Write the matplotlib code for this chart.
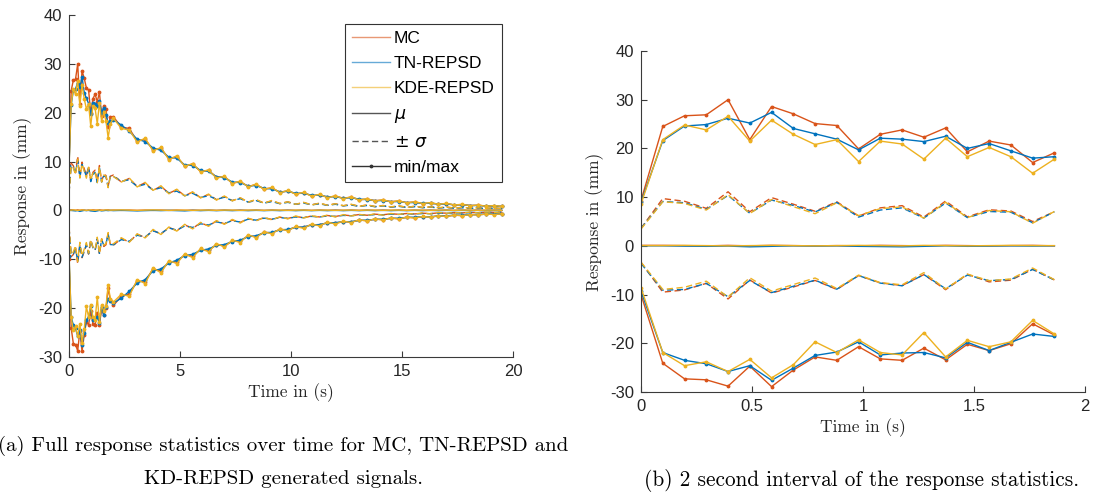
import numpy as np
import matplotlib
matplotlib.use("Agg")
import matplotlib.pyplot as plt
from matplotlib.lines import Line2D

# ---------------- data ----------------
dt = 0.098
n_zoom = 20
t_zoom = np.arange(n_zoom) * dt            # sample times of the 2 s window
t_tail = np.linspace(2.0, 19.5, 50)        # coarser read-off grid for the rest

# first 2 s
mc_max = [9.3, 24.5, 26.7, 26.9, 30.0, 21.8, 28.6, 27.1, 25.1, 24.7, 19.9, 22.9, 23.8, 22.3, 24.2, 19.3, 21.5, 20.7, 17.1, 19.1]
tn_max = [9.0, 21.6, 24.6, 24.9, 26.2, 25.2, 27.4, 24.1, 23.0, 21.9, 19.7, 22.1, 21.9, 21.4, 22.5, 20.0, 21.0, 19.5, 18.0, 18.3]
kde_max = [8.6, 21.8, 24.8, 23.8, 26.6, 21.5, 25.8, 22.9, 20.8, 21.8, 17.3, 21.5, 20.9, 17.8, 22.1, 18.3, 20.2, 18.3, 14.9, 17.8]

mc_min = [-10.0, -24.1, -27.3, -27.5, -28.8, -24.7, -28.9, -25.5, -22.8, -23.5, -20.7, -23.2, -23.5, -21.0, -23.4, -20.2, -21.5, -20.1, -16.0, -18.3]
tn_min = [-9.3, -21.9, -23.5, -24.2, -25.8, -24.6, -27.6, -25.1, -22.5, -21.8, -19.7, -22.4, -22.0, -21.9, -23.0, -19.8, -21.5, -19.8, -18.1, -18.6]
kde_min = [-8.6, -21.9, -24.6, -23.8, -25.8, -23.3, -27.1, -24.4, -19.7, -21.9, -19.3, -21.9, -22.4, -17.8, -22.8, -19.4, -20.7, -19.7, -15.3, -18.1]

mc_mu = [0.1, 0.1, 0.05, 0.0, 0.1, 0.0, 0.1, 0.05, 0.0, 0.05, 0.0, 0.1, 0.05, 0.0, 0.1, 0.05, 0.0, 0.05, 0.1, 0.0]
tn_mu = [0.0, 0.0, -0.05, -0.1, -0.05, -0.2, -0.1, 0.0, -0.05, 0.0, -0.1, -0.15, -0.2, -0.1, 0.0, -0.1, -0.05, 0.0, -0.05, 0.0]
kde_mu = [0.05, 0.05, 0.1, 0.05, 0.0, 0.05, 0.1, 0.05, 0.0, 0.05, 0.1, 0.05, 0.0, 0.1, 0.05, 0.0, 0.05, 0.1, 0.05, 0.05]

mc_sig = [3.5, 9.6, 9.1, 7.7, 11.0, 7.0, 9.8, 8.5, 7.1, 9.0, 6.1, 7.7, 8.2, 5.9, 9.1, 5.9, 7.4, 7.1, 4.9, 7.0]
tn_sig = [3.6, 9.1, 8.9, 7.6, 10.4, 6.9, 9.5, 8.3, 7.0, 8.9, 6.0, 7.5, 8.0, 5.8, 8.8, 5.9, 7.1, 6.9, 4.8, 7.0]
kde_sig = [3.4, 9.0, 8.6, 7.3, 10.5, 6.6, 9.4, 8.0, 6.6, 8.8, 6.1, 7.6, 8.0, 5.6, 8.9, 5.8, 7.2, 6.9, 4.6, 7.0]

# remainder of the record
mc_max_tail = [19.2, 17.1, 16.8, 14.2, 14.6, 12.4, 12.7, 10.6, 11.0, 9.1, 9.5, 8.0, 8.2, 6.8, 6.9, 5.6, 5.9, 4.9, 5.3, 4.4, 4.6, 3.7, 4.0, 3.4, 3.6, 3.0, 3.2, 2.7, 2.9, 2.5, 2.7, 2.2, 2.3, 2.0, 2.1, 1.8, 1.9, 1.6, 1.7, 1.4, 1.5, 1.3, 1.4, 1.1, 1.2, 1.0, 1.05, 0.9, 0.95, 0.8]
tn_max_tail = [18.6, 17.5, 16.2, 14.6, 14.1, 12.8, 12.3, 10.9, 10.7, 9.3, 9.2, 8.2, 8.0, 6.9, 6.7, 5.8, 5.7, 5.0, 5.1, 4.5, 4.4, 3.8, 3.9, 3.5, 3.5, 3.1, 3.1, 2.8, 2.8, 2.5, 2.6, 2.3, 2.2, 2.0, 2.0, 1.8, 1.8, 1.6, 1.6, 1.45, 1.45, 1.3, 1.3, 1.15, 1.15, 1.0, 1.0, 0.9, 0.9, 0.8]
kde_max_tail = [18.9, 16.8, 16.5, 14.0, 14.8, 12.2, 12.9, 10.4, 11.2, 9.0, 9.6, 7.9, 8.3, 6.6, 7.0, 5.5, 6.0, 4.8, 5.4, 4.3, 4.7, 3.6, 4.1, 3.3, 3.7, 2.9, 3.3, 2.6, 3.0, 2.4, 2.8, 2.1, 2.4, 1.9, 2.2, 1.7, 2.0, 1.5, 1.8, 1.4, 1.6, 1.25, 1.45, 1.1, 1.25, 0.95, 1.1, 0.85, 1.0, 0.8]

mc_min_tail = [-19.5, -17.6, -17.2, -14.5, -14.6, -12.0, -12.4, -10.6, -10.5, -9.1, -9.4, -8.0, -8.2, -7.0, -7.3, -6.3, -6.3, -5.2, -5.4, -4.5, -4.6, -3.9, -4.0, -3.4, -3.5, -2.9, -3.0, -2.5, -2.6, -2.3, -2.4, -2.0, -2.1, -1.8, -1.9, -1.6, -1.7, -1.4, -1.5, -1.3, -1.35, -1.15, -1.2, -1.0, -1.05, -0.85, -0.9, -0.75, -0.8, -0.7]
tn_min_tail = [-19.0, -18.0, -16.6, -14.9, -14.2, -12.4, -12.0, -10.8, -10.2, -9.3, -9.0, -8.2, -7.9, -7.2, -7.0, -6.4, -6.1, -5.4, -5.2, -4.6, -4.5, -4.0, -3.9, -3.5, -3.4, -3.0, -2.9, -2.6, -2.5, -2.35, -2.3, -2.05, -2.0, -1.85, -1.8, -1.65, -1.6, -1.45, -1.4, -1.3, -1.3, -1.15, -1.1, -1.0, -1.0, -0.88, -0.85, -0.78, -0.75, -0.7]
kde_min_tail = [-18.8, -17.2, -17.6, -14.2, -15.0, -11.8, -12.8, -10.3, -10.9, -8.9, -9.7, -7.8, -8.5, -6.8, -7.5, -6.1, -6.6, -5.0, -5.6, -4.4, -4.8, -3.8, -4.2, -3.3, -3.7, -2.8, -3.2, -2.4, -2.8, -2.2, -2.5, -1.9, -2.2, -1.7, -2.0, -1.5, -1.8, -1.35, -1.6, -1.25, -1.4, -1.1, -1.25, -0.95, -1.1, -0.85, -0.95, -0.75, -0.85, -0.7]

mc_sig_tail = [7.2, 5.8, 6.5, 4.9, 5.6, 4.1, 4.9, 3.5, 4.2, 3.0, 3.7, 2.6, 3.2, 2.2, 2.8, 2.0, 2.5, 1.7, 2.1, 1.5, 1.9, 1.4, 1.7, 1.25, 1.55, 1.15, 1.4, 1.05, 1.3, 0.95, 1.15, 0.85, 1.05, 0.78, 0.95, 0.7, 0.85, 0.64, 0.78, 0.58, 0.7, 0.52, 0.62, 0.47, 0.56, 0.42, 0.5, 0.38, 0.44, 0.36]
tn_sig_tail = [7.0, 6.0, 6.3, 5.0, 5.4, 4.2, 4.7, 3.6, 4.0, 3.1, 3.5, 2.7, 3.0, 2.3, 2.7, 2.05, 2.4, 1.75, 2.0, 1.55, 1.8, 1.42, 1.65, 1.3, 1.5, 1.18, 1.35, 1.08, 1.25, 0.98, 1.1, 0.88, 1.0, 0.8, 0.92, 0.72, 0.82, 0.66, 0.75, 0.6, 0.68, 0.54, 0.6, 0.48, 0.54, 0.44, 0.48, 0.4, 0.42, 0.36]
kde_sig_tail = [6.9, 5.7, 6.6, 4.8, 5.7, 4.0, 5.0, 3.4, 4.3, 2.9, 3.8, 2.5, 3.3, 2.1, 2.9, 1.9, 2.6, 1.65, 2.2, 1.45, 2.0, 1.35, 1.75, 1.2, 1.6, 1.1, 1.45, 1.0, 1.35, 0.92, 1.2, 0.82, 1.08, 0.75, 0.98, 0.68, 0.88, 0.62, 0.8, 0.56, 0.72, 0.5, 0.64, 0.46, 0.58, 0.41, 0.52, 0.37, 0.46, 0.35]

mc_mu_tail = [0.05, 0.0, 0.05, 0.0, 0.05, 0.0, 0.05, 0.0, 0.05, 0.0, 0.05, 0.0, 0.05, 0.0, 0.05, 0.0, 0.05, 0.0, 0.05, 0.0, 0.05, 0.0, 0.05, 0.0, 0.05, 0.0, 0.05, 0.0, 0.05, 0.0, 0.05, 0.0, 0.05, 0.0, 0.05, 0.0, 0.05, 0.0, 0.05, 0.0, 0.05, 0.0, 0.05, 0.0, 0.05, 0.0, 0.05, 0.0, 0.05, 0.0]
tn_mu_tail = [-0.05, 0.0, -0.05, -0.1, -0.05, 0.0, -0.05, 0.0, -0.05, -0.1, 0.0, -0.05, 0.0, -0.05, 0.0, -0.05, 0.0, -0.05, 0.0, -0.05, 0.0, -0.05, 0.0, -0.05, 0.0, -0.05, 0.0, -0.05, 0.0, -0.05, 0.0, -0.05, 0.0, -0.05, 0.0, -0.05, 0.0, -0.05, 0.0, -0.05, 0.0, -0.05, 0.0, -0.05, 0.0, -0.05, 0.0, -0.05, 0.0, 0.0]
kde_mu_tail = [0.05, 0.1, 0.05, 0.0, 0.05, 0.1, 0.05, 0.0, 0.05, 0.05, 0.0, 0.05, 0.05, 0.0, 0.05, 0.05, 0.0, 0.05, 0.05, 0.0, 0.05, 0.05, 0.0, 0.05, 0.05, 0.0, 0.05, 0.05, 0.0, 0.05, 0.05, 0.0, 0.05, 0.05, 0.0, 0.05, 0.05, 0.0, 0.05, 0.05, 0.0, 0.05, 0.05, 0.0, 0.05, 0.05, 0.0, 0.05, 0.05, 0.0]

methods = ["MC", "TN-REPSD", "KDE-REPSD"]
colors = ["#D95319", "#0072BD", "#EDB120"]
legend_labels = ["MC", "TN-REPSD", "KDE-REPSD", r"$\mu$", r"$\pm\ \sigma$", "min/max"]
caption_a = "(a) Full response statistics over time for MC, TN-REPSD and\nKD-REPSD generated signals."
caption_b = "(b) 2 second interval of the response statistics."

series = {
    "MC": (mc_mu, mc_sig, mc_min, mc_max, mc_mu_tail, mc_sig_tail, mc_min_tail, mc_max_tail),
    "TN-REPSD": (tn_mu, tn_sig, tn_min, tn_max, tn_mu_tail, tn_sig_tail, tn_min_tail, tn_max_tail),
    "KDE-REPSD": (kde_mu, kde_sig, kde_min, kde_max, kde_mu_tail, kde_sig_tail, kde_min_tail, kde_max_tail),
}

# ---------------- figure ----------------
plt.rcParams["font.family"] = ["Liberation Sans", "DejaVu Sans"]
fig = plt.figure(figsize=(10.95, 4.95), dpi=100)
axL = fig.add_axes([0.063, 0.2794, 0.4055, 0.6897])
axR = fig.add_axes([0.5854, 0.2081, 0.4055, 0.6889])

lab_font = dict(family="cmr10", size=12.5)
spine_c = "#3a3a3a"


def draw(ax, t, mu, sig, mn, mx, c):
    mu = np.asarray(mu); sig = np.asarray(sig)
    ax.plot(t, mu, color=c, lw=1.0)
    ax.plot(t, mu + sig, color=c, lw=1.0, ls=(0, (4.5, 2.5)))
    ax.plot(t, mu - sig, color=c, lw=1.0, ls=(0, (4.5, 2.5)))
    ax.plot(t, mn, color=c, lw=1.0, marker=".", ms=3.5)
    ax.plot(t, mx, color=c, lw=1.0, marker=".", ms=3.5)


t_full = np.concatenate([t_zoom, t_tail])
for name, c in zip(methods, colors):
    mu, sig, mn, mx, mu_t, sig_t, mn_t, mx_t = series[name]
    draw(axL, t_full, mu + mu_t, sig + sig_t, mn + mn_t, mx + mx_t, c)
    draw(axR, t_zoom, mu, sig, mn, mx, c)

for ax in (axL, axR):
    ax.set_ylim(-30, 40)
    ax.set_yticks(range(-30, 41, 10))
    ax.set_yticklabels([str(v) for v in range(-30, 41, 10)])
    for s in ("top", "right"):
        ax.spines[s].set_visible(False)
    for s in ("left", "bottom"):
        ax.spines[s].set_color(spine_c)
        ax.spines[s].set_linewidth(0.8)
    ax.tick_params(direction="in", length=4, width=0.8, colors=spine_c,
                   labelsize=12, labelcolor="#262626", pad=5)
    ax.set_ylabel("Response in (mm)", fontdict=lab_font, color="#262626", labelpad=4)
    ax.set_xlabel("Time in (s)", fontdict=lab_font, color="#262626", labelpad=3)

axL.set_xlim(0, 20)
axL.set_xticks([0, 5, 10, 15, 20])
axR.set_xlim(0, 2)
axR.set_xticks([0, 0.5, 1, 1.5, 2])
axR.set_xticklabels(["0", "0.5", "1", "1.5", "2"])

handles = [Line2D([], [], color=c, lw=1.0, alpha=0.6) for c in colors]
handles += [Line2D([], [], color="#555555", lw=1.0),
            Line2D([], [], color="#555555", lw=1.0, ls=(0, (4.5, 2.5))),
            Line2D([], [], color="#333333", lw=1.0, marker=".", ms=3.5)]
leg = axL.legend(handles, legend_labels, loc="upper right", bbox_to_anchor=(0.975, 0.975),
                 frameon=True, fancybox=False, framealpha=1, edgecolor="#333333",
                 fontsize=12.5, handlelength=2.2, handletextpad=0.25, labelspacing=0.58,
                 borderpad=0.4, borderaxespad=0.0)
leg.get_frame().set_linewidth(0.8)

fig.text(283 / 1095, 1 - 462 / 495, caption_a, ha="center", va="center",
         family="cmr10", size=15, linespacing=2.05)
fig.text(862 / 1095, 1 - 480 / 495, caption_b, ha="center", va="center",
         family="cmr10", size=15.3)

fig.savefig("out.png", dpi=100)
